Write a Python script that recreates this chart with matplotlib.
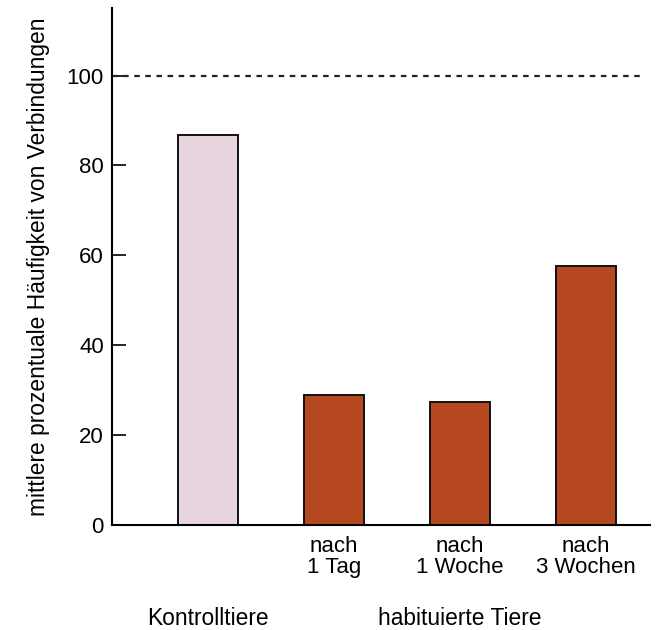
import matplotlib as mpl
import matplotlib.pyplot as plt
import numpy as np

mpl.use('Agg')
plt.rcParams['font.family'] = ['Liberation Sans', 'DejaVu Sans']

# values
categories = ['', 'nach\n1 Tag', 'nach\n1 Woche', 'nach\n3 Wochen']
values = [86.8, 29.0, 27.4, 57.5]
colors = ['#e8d5df', '#b5481f', '#b5481f', '#b5481f']
reference_level = 100
y_ticks = [0, 20, 40, 60, 80, 100]
group_labels = ['Kontrolltiere', 'habituierte Tiere']

fig = plt.figure(figsize=(6.56, 6.30), dpi=100)
ax = fig.add_axes([0.171, 0.167, 0.82, 0.82])

x = np.arange(len(values))
ax.bar(x, values, width=0.48, color=colors, edgecolor='#111111', linewidth=1.4, zorder=2)

# dashed 100 % line
ax.plot([-0.76, 3.46], [reference_level, reference_level], ls=(0, (2.5, 2.5)),
        color='#222222', lw=1.6, clip_on=False)

ax.set_xlim(-0.76, 3.51)
ax.set_ylim(0, 115)
ax.set_yticks(y_ticks)
ax.set_xticks(x)
ax.set_xticklabels(categories, fontsize=16, linespacing=1.0)

ax.tick_params(axis='y', direction='in', length=10, width=1.2, labelsize=16, pad=6)
ax.tick_params(axis='x', length=0, pad=8)

for side in ['top', 'right']:
    ax.spines[side].set_visible(False)
ax.spines['left'].set_linewidth(1.5)
ax.spines['bottom'].set_linewidth(1.5)

ax.set_ylabel('mittlere prozentuale Häufigkeit von Verbindungen', fontsize=16.4, labelpad=12)

# group captions below the axis
ax.text(0, -20.8, group_labels[0], ha='center', va='center', fontsize=16.4,
        transform=ax.transData, clip_on=False)
ax.text(2.0, -20.8, group_labels[1], ha='center', va='center', fontsize=16.4,
        transform=ax.transData, clip_on=False)

fig.savefig('out.png', dpi=100)
